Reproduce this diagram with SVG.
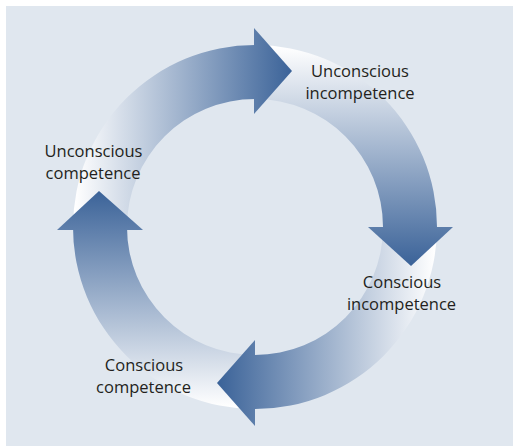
<svg xmlns="http://www.w3.org/2000/svg" width="513" height="446" viewBox="0 0 513 446">
<defs>
<linearGradient id="gTop" gradientUnits="userSpaceOnUse" x1="75" y1="0" x2="293" y2="0"><stop offset="0" stop-color="#ffffff"/><stop offset="1" stop-color="#3a6298"/></linearGradient>
<linearGradient id="gRight" gradientUnits="userSpaceOnUse" x1="0" y1="47" x2="0" y2="266"><stop offset="0" stop-color="#ffffff"/><stop offset="1" stop-color="#3a6298"/></linearGradient>
<linearGradient id="gBottom" gradientUnits="userSpaceOnUse" x1="435" y1="0" x2="217" y2="0"><stop offset="0" stop-color="#ffffff"/><stop offset="1" stop-color="#3a6298"/></linearGradient>
<linearGradient id="gLeft" gradientUnits="userSpaceOnUse" x1="0" y1="407" x2="0" y2="190"><stop offset="0" stop-color="#ffffff"/><stop offset="1" stop-color="#3a6298"/></linearGradient>
</defs>
<style>
.lbl{font-family:"Open Sans","Noto Sans","Liberation Sans",sans-serif;font-size:16.5px;fill:#231f20;text-anchor:middle}
</style>
<rect x="0" y="0" width="513" height="446" fill="#ffffff"/>
<rect x="6" y="6" width="507" height="440" fill="#e0e7ef"/>
<g id="connectors">
<path id="body-top" d="M73 227 A182 182 0 0 1 255 45 L255 99 A128 128 0 0 0 127 227 Z" fill="url(#gTop)"/>
<path id="body-right" d="M255 45 A182 182 0 0 1 437 227 L383 227 A128 128 0 0 0 255 99 Z" fill="url(#gRight)"/>
<path id="body-bottom" d="M437 227 A182 182 0 0 1 255 409 L255 355 A128 128 0 0 0 383 227 Z" fill="url(#gBottom)"/>
<path id="body-left" d="M255 409 A182 182 0 0 1 73 227 L127 227 A128 128 0 0 0 255 355 Z" fill="url(#gLeft)"/>
<polygon id="head-top" points="254,28 292,71 254,114" fill="url(#gTop)"/>
<polygon id="head-right" points="368,227 453,227 411,266" fill="url(#gRight)"/>
<polygon id="head-bottom" points="255,340 217,383 255,426" fill="url(#gBottom)"/>
<polygon id="head-left" points="57,230 99,191 143,230" fill="url(#gLeft)"/>
</g>
<g id="node-ui"><text class="lbl" x="360" y="77">Unconscious</text><text class="lbl" x="360" y="98.5">incompetence</text></g>
<g id="node-ci"><text class="lbl" x="402" y="288">Conscious</text><text class="lbl" x="401.5" y="310">incompetence</text></g>
<g id="node-cc"><text class="lbl" x="144" y="371">Conscious</text><text class="lbl" x="143.5" y="393">competence</text></g>
<g id="node-uc"><text class="lbl" x="93.5" y="157">Unconscious</text><text class="lbl" x="93" y="179">competence</text></g>
</svg>
